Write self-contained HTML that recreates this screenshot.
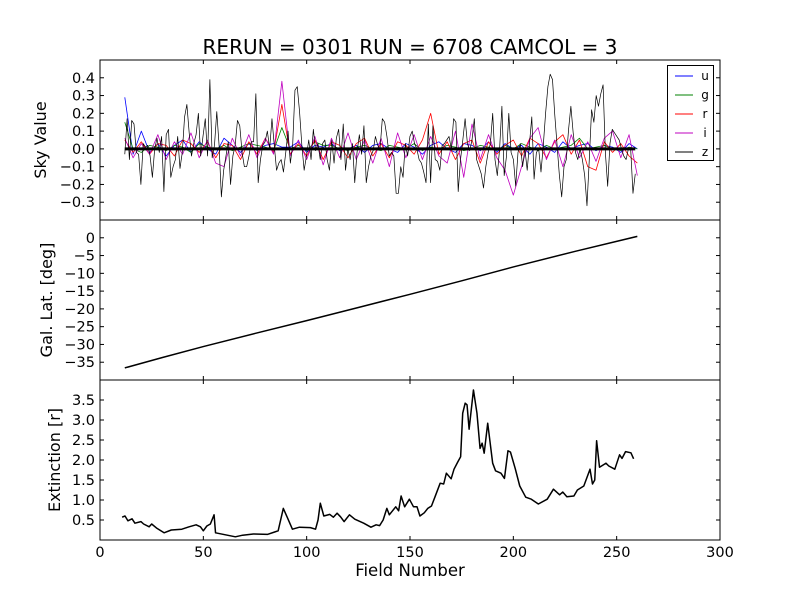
<!DOCTYPE html>
<html><head><meta charset="utf-8"><style>
body{margin:0;background:#fff}
svg{display:block;font-family:"DejaVu Sans","Liberation Sans",sans-serif}
</style></head><body>
<svg id="c" width="800" height="600" viewBox="0 0 800 600" xmlns="http://www.w3.org/2000/svg">
<rect width="800" height="600" fill="#fff"/>
<text x="410" y="54" font-size="20" text-anchor="middle">RERUN = 0301 RUN = 6708 CAMCOL = 3</text>
</svg>
<script>
const xTicks=[0,50,100,150,200,250,300];
const skyTicks=[-0.3,-0.2,-0.1,0.0,0.1,0.2,0.3,0.4];
const latTicks=[-35,-30,-25,-20,-15,-10,-5,0];
const extTicks=[0.5,1.0,1.5,2.0,2.5,3.0,3.5];
const bandNames=['u','g','r','i','z'];
// z band (hundredths), consecutive fields from 12 to 259
const zVals=[-3,17,-6,16,14,-2,-3,-20,3,1,2,-4,-16,0,6,-2,7,-24,8,11,-16,-10,-6,7,-11,-2,18,25,9,-4,3,8,20,-4,7,17,-4,39,-5,2,21,2,-27,-12,-4,4,-20,-4,2,16,13,-2,-10,-10,-4,4,4,31,-19,-6,2,4,10,0,17,2,-12,-8,-6,-13,-2,10,-8,2,33,35,21,2,-12,-4,5,-6,11,-1,3,-6,3,5,-6,-12,5,-8,6,11,-6,14,-12,0,-6,3,-19,-2,8,-3,13,-19,-10,-4,-1,7,2,0,17,15,7,-4,-2,-4,-25,-25,-10,-16,3,-4,
7,10,3,0,-6,-8,-13,-19,14,-19,13,-6,-7,-12,2,3,5,7,0,17,15,-24,-6,5,17,3,-1,5,17,-6,-10,-14,-22,-10,-2,3,20,-6,-15,0,24,-15,-4,20,-2,-6,-21,-2,3,-10,0,-12,3,18,-17,-2,0,-13,2,20,35,42,39,19,2,-15,-27,-10,-6,11,24,9,-2,-6,0,-6,-15,-32,-6,22,15,30,24,31,36,-2,-21,3,11,9,7,5,0,-4,-6,0,0,-25,-14];
// other bands (hundredths), fields 12,16,...,260
const uVals=[29,-3,10,-2,3,-4,2,5,-2,4,0,-3,6,2,-2,3,-1,2,3,1,1,4,-2,2,1,3,-1,0,2,-2,2,3,0,-2,3,1,-3,2,4,0,-2,3,2,-1,4,-2,3,0,2,-3,3,1,-2,4,0,2,3,-1,2,1,-2,3,0];
const gVals=[15,0,-2,2,1,-1,2,1,-2,3,1,0,2,-1,1,3,2,1,-1,12,0,2,-1,4,2,2,0,-1,1,2,0,-1,2,1,0,3,-1,1,0,2,1,-1,0,2,1,-1,2,0,3,1,-1,2,0,1,2,6,0,1,2,0,-1,1,0];
const rVals=[5,-2,4,-3,3,2,-4,5,3,-2,4,-5,3,2,-6,4,-3,6,-2,25,-3,3,-4,5,-6,4,2,-5,3,6,-4,3,-5,4,2,-3,5,20,-3,4,-6,3,5,-8,4,-3,2,5,-4,6,3,-5,4,8,-3,5,-10,-12,4,-2,3,-4,-8];
const iVals=[6,-5,3,-3,8,-6,4,-3,9,-5,5,-8,-10,6,-4,8,-5,6,-3,38,-4,5,-6,7,-9,6,-5,9,-6,5,-8,6,-10,9,-5,8,-6,7,-4,-8,10,-16,14,-6,8,-5,-12,-26,-10,6,12,-6,5,-10,8,-5,4,-7,6,10,-5,8,-15];
const latFields=[12,30,50,75,100,125,150,175,200,230,260];
const latVals=[-36.6,-33.7,-30.6,-26.9,-23.3,-19.6,-15.9,-12.1,-8.2,-3.8,0.4];
const extFields=[10.7,12.1,13.5,15.5,16.9,19.8,21.1,23.8,25,27.6,31,34.5,39.6,43.1,46.5,48.6,50,51.7,53.4,55.2,55.9,65.5,69,74.2,81,84.5,86.2,88.7,90.5,93.1,96.5,101.8,104.3,105.5,106.6,108.3,111.2,112.9,114.7,116.4,118.1,120.7,123.3,127.6,131.1,133.6,135.3,137,138.8,140,143.1,144.5,145.7,147.4,149.7,151.7,153.4,154.8,156.9,158.6,160.4,162.1,164.6,166.3,167.6,169.9,171.3,173.2,174.5,175.5,176.7,177.6,178.6,180.7,182.4,183.9,184.9,185.9,187.6,190,191.4,194,195.7,197.4,198.6,200.9,203.1,206,208.7,212.1,216.4,219.4,222.4,223.9,225.9,229.3,231,234.1,237.1,238.3,239.4,240.3,241.7,244.8,246.2,249.1,251.4,252.6,254.3,256.9,258.2];
const extVals=[0.57,0.6,0.48,0.53,0.42,0.46,0.4,0.33,0.4,0.29,0.18,0.25,0.27,0.33,0.38,0.33,0.23,0.35,0.4,0.63,0.18,0.08,0.12,0.15,0.14,0.2,0.23,0.79,0.58,0.27,0.32,0.31,0.27,0.5,0.92,0.6,0.64,0.57,0.67,0.58,0.46,0.63,0.52,0.42,0.32,0.38,0.36,0.5,0.79,0.63,0.83,0.73,1.1,0.83,1.02,0.83,0.83,0.6,0.68,0.79,0.85,1.08,1.42,1.4,1.67,1.53,1.77,1.96,2.08,3.17,3.42,3.38,2.77,3.75,3.17,2.29,2.42,2.17,2.92,1.92,1.73,1.67,1.54,2.23,2.2,1.79,1.35,1.07,1.02,0.9,1.02,1.27,1.13,1.2,1.08,1.1,1.25,1.35,1.77,1.4,1.5,2.48,1.82,1.92,1.85,1.77,2.13,2.04,2.21,2.18,2.03];

const svg=document.getElementById('c');
const NS='http://www.w3.org/2000/svg';
const L=100,R=720;
const X=v=>L+(v-0)*(R-L)/300;
const panels=[{t:60,b:220,lo:-0.4,hi:0.5},{t:220,b:380,lo:-40,hi:5},{t:380,b:540,lo:0,hi:4}];
function Y(p,v){return p.b-(v-p.lo)*(p.b-p.t)/(p.hi-p.lo);}
function mk(tag,attrs){const e=document.createElementNS(NS,tag);for(const k in attrs)e.setAttribute(k,attrs[k]);svg.appendChild(e);return e;}
function line(p,xs,ys,color,w,name){
  let d='';for(let i=0;i<xs.length;i++)d+=(i?'L':'M')+X(xs[i]).toFixed(2)+' '+Y(p,ys[i]).toFixed(2);
  const e=mk('path',{d:d,fill:'none',stroke:color,'stroke-width':w,'stroke-linejoin':'round'});
  
  
}
const sky=panels[0];
const zF=zVals.map((v,i)=>12+i*(259-12)/(zVals.length-1));
const bF=uVals.map((v,i)=>12+i*4);
line(sky,bF,uVals.map(v=>v/100),'#0000ff',0.8,'series-u');
line(sky,bF,gVals.map(v=>v/100),'#008000',0.8,'series-g');
line(sky,bF,rVals.map(v=>v/100),'#ff0000',0.8,'series-r');
line(sky,bF,iVals.map(v=>v/100),'#bf00bf',0.8,'series-i');
line(sky,zF,zVals.map(v=>v/100),'#000',0.7,'series-z');
line(sky,[12,259],[0,0],'#000',3,'zero-line');
line(panels[1],latFields,latVals,'#000',1.5,'gal-lat-line');
line(panels[2],extFields,extVals,'#000',1.5,'extinction-line');

const tickSets=[skyTicks,latTicks,extTicks];
const pnames=['sky-panel','lat-panel','extinction-panel'];
panels.forEach((p,pi)=>{
  const f=mk('rect',{x:L,y:p.t,width:R-L,height:p.b-p.t,fill:'none',stroke:'#000','stroke-width':1});
  
  
  xTicks.forEach(v=>{
    mk('line',{x1:X(v),x2:X(v),y1:p.b,y2:p.b-4,stroke:'#000'});
    mk('line',{x1:X(v),x2:X(v),y1:p.t,y2:p.t+4,stroke:'#000'});
  });
  tickSets[pi].forEach(v=>{
    const y=Y(p,v);
    mk('line',{x1:L,x2:L+4,y1:y,y2:y,stroke:'#000'});
    mk('line',{x1:R,x2:R-4,y1:y,y2:y,stroke:'#000'});
    const t=mk('text',{x:L-5,y:y+5,'font-size':14.5,'text-anchor':'end'});
    let s=pi===1?String(v):v.toFixed(1);
    t.textContent=s.replace('-','\u2212');
    
    
  });
});
xTicks.forEach(v=>{
  const t=mk('text',{x:X(v),y:557,'font-size':14.5,'text-anchor':'middle'});
  t.textContent=String(v);
  
  
});
const ylabels=[['Sky Value',46,140],['Gal. Lat. [deg]',52,300],['Extinction [r]',60,460]];
ylabels.forEach((a,i)=>{
  const t=mk('text',{x:a[1],y:a[2],'font-size':16,'text-anchor':'middle',transform:'rotate(-90 '+a[1]+' '+a[2]+')'});
  t.textContent=a[0];
  
  
});
const xl=mk('text',{x:410,y:576,'font-size':16.5,'text-anchor':'middle'});
xl.textContent='Field Number';



const lg=mk('rect',{x:667.5,y:65.5,width:46,height:95,fill:'#fff',stroke:'#000','stroke-width':1});


const lcol=['#0000ff','#008000','#ff0000','#bf00bf','#000'];
bandNames.forEach((n,i)=>{
  const y=76+i*19;
  mk('line',{x1:675,x2:693,y1:y,y2:y,stroke:lcol[i],'stroke-width':1});
  const t=mk('text',{x:705,y:y+4,'font-size':12,'text-anchor':'middle'});
  t.textContent=n;
  
  
});
</script>
</body></html>
